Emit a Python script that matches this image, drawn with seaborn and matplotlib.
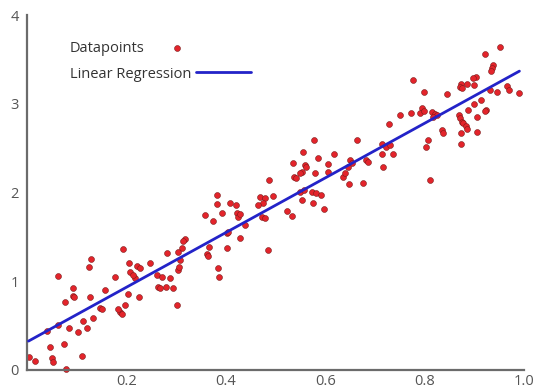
import seaborn as sns
import pandas as pd
import matplotlib.pyplot as plt

# puntos
x_vals = [0.003, 0.016, 0.046, 0.050, 0.052, 0.075, 0.078, 0.111, 0.063, 0.076, 0.093, 0.092, 0.095,
          0.085, 0.103, 0.120, 0.113, 0.127, 0.128, 0.125, 0.133, 0.147, 0.150, 0.157, 0.063, 0.040,
          0.177, 0.194, 0.187, 0.191, 0.183, 0.197, 0.203, 0.205, 0.207, 0.217, 0.214, 0.221, 0.227,
          0.226, 0.247, 0.261, 0.264, 0.268, 0.271, 0.279, 0.281, 0.288, 0.293, 0.301, 0.304, 0.306,
          0.308, 0.311, 0.318, 0.314, 0.304,
          0.358, 0.362, 0.365, 0.366, 0.374, 0.382, 0.382, 0.384, 0.386, 0.392, 0.402, 0.402, 0.408,
          0.420, 0.422, 0.424, 0.429, 0.429, 0.439, 0.469, 0.479, 0.475, 0.465, 0.472, 0.479, 0.486,
          0.488, 0.405, 0.495,
          0.523, 0.533, 0.553, 0.576, 0.573, 0.581, 0.592, 0.549, 0.557, 0.598, 0.536, 0.556, 0.559,
          0.561, 0.553, 0.549, 0.538, 0.541, 0.577, 0.586, 0.579, 0.606, 0.606, 0.618, 0.636, 0.640,
          0.650, 0.654, 0.646, 0.648, 0.665, 0.677, 0.683, 0.687,
          0.714, 0.722, 0.730, 0.714, 0.736, 0.717, 0.728, 0.750, 0.773, 0.777, 0.799, 0.795, 0.791,
          0.799, 0.815, 0.821, 0.825, 0.818, 0.835, 0.838, 0.807, 0.803, 0.811, 0.846,
          0.952, 0.922, 0.937, 0.935, 0.934, 0.903, 0.898, 0.873, 0.872, 0.875, 0.886, 0.899, 0.966,
          0.970, 0.991, 0.946, 0.931, 0.913, 0.900, 0.924, 0.922, 0.887, 0.905, 0.869, 0.872, 0.875,
          0.878, 0.883, 0.886, 0.874, 0.905, 0.874]
y_vals = [0.15, 0.105, 0.263, 0.135, 0.094, 0.293, 0.011, 0.161, 1.06, 0.77, 0.921, 0.834, 0.82,
          0.47, 0.432, 0.477, 0.552, 0.82, 1.251, 1.158, 0.583, 0.696, 0.688, 0.902, 0.507, 0.44,
          1.045, 1.364, 0.657, 0.631, 0.688, 0.733, 0.857, 1.203, 1.108, 1.034, 1.071, 1.172, 1.153,
          0.826, 1.203, 1.071, 0.939, 0.921, 1.045, 0.932, 1.316, 1.034, 0.928, 0.733, 1.127, 1.165,
          1.24, 1.372, 1.474, 1.454, 1.334,
          1.747, 1.308, 1.289, 1.39, 1.68, 1.973, 1.868, 1.147, 1.052, 1.767, 1.541, 1.372, 1.886,
          1.86, 1.767, 1.728, 1.759, 1.485, 1.635, 1.954, 1.936, 1.879, 1.86, 1.728, 1.71, 1.353,
          2.142, 1.559, 1.962,
          1.793, 1.736, 1.917, 1.886, 2.007, 1.99, 1.973, 2.007, 2.029, 1.81, 2.33, 2.461, 2.311,
          2.289, 2.236, 2.218, 2.179, 2.161, 2.593, 2.387, 2.218, 2.319, 2.236, 2.435, 2.179, 2.218,
          2.368, 2.328, 2.289, 2.094, 2.593, 2.112, 2.368, 2.348,
          2.548, 2.514, 2.531, 2.435, 2.435, 2.292, 2.768, 2.878, 2.894, 3.269, 3.131, 2.95, 2.897,
          2.92, 2.903, 2.886, 2.869, 2.852, 2.7, 2.672, 2.596, 2.511, 2.142, 3.112,
          3.645, 3.559, 3.433, 3.399, 3.365, 3.303, 3.286, 3.219, 3.19, 3.174, 3.219, 3.213, 3.196,
          3.151, 3.123, 3.129, 3.151, 3.044, 2.997, 2.931, 2.914, 2.926, 2.849, 2.871, 2.838, 2.799,
          2.779, 2.751, 2.711, 2.675, 2.683, 2.548]

x_ticks = [0, 0.2, 0.4, 0.6, 0.8, 1.0]
x_labels = ["", "0.2", "0.4", "0.6", "0.8", "1.0"]
y_ticks = [0, 1, 2, 3, 4]
y_labels = ["0", "1", "2", "3", "4"]

df = pd.DataFrame({"x": x_vals, "y": y_vals})

sns.set_theme(style="white")
plt.rcParams['font.family'] = ['Open Sans', 'DejaVu Sans']

fig = plt.figure(figsize=(5.36, 3.90), dpi=100)
ax = fig.add_axes([0.0504, 0.0513, 0.927, 0.91])

sns.scatterplot(data=df, x="x", y="y", ax=ax, color="#e3242b", s=18, linewidth=0.4,
                edgecolor="#7a1a1a", label="Datapoints", clip_on=False, zorder=2)
sns.regplot(data=df, x="x", y="y", ax=ax, scatter=False, ci=None, label="Linear Regression",
            line_kws={"color": "#2323c8", "lw": 2, "zorder": 3})

ax.set_xlim(0, 1)
ax.set_ylim(0, 4)
ax.set_xticks(x_ticks, x_labels)
ax.set_yticks(y_ticks, y_labels)
ax.set_xlabel("")
ax.set_ylabel("")
sns.despine(ax=ax)
for s in ["left", "bottom"]:
    ax.spines[s].set_color("#6b6b6b")
    ax.spines[s].set_linewidth(1.6)
ax.tick_params(direction="in", length=10, width=1.2, color="#6b6b6b",
               labelsize=10.5, labelcolor="#555555", pad=3)
ax.tick_params(axis="y", pad=6)

leg = ax.legend(loc="upper left", bbox_to_anchor=(0.06, 0.965), frameon=False, markerfirst=False,
                fontsize=10.5, handlelength=3.8, handletextpad=0.3, labelspacing=0.75,
                labelcolor="#333333")
# texto alineado a la izquierda, el simbolo justo detras
for col in leg._legend_handle_box.get_children():
    col.align = "left"

fig.savefig("out.png", dpi=100)
